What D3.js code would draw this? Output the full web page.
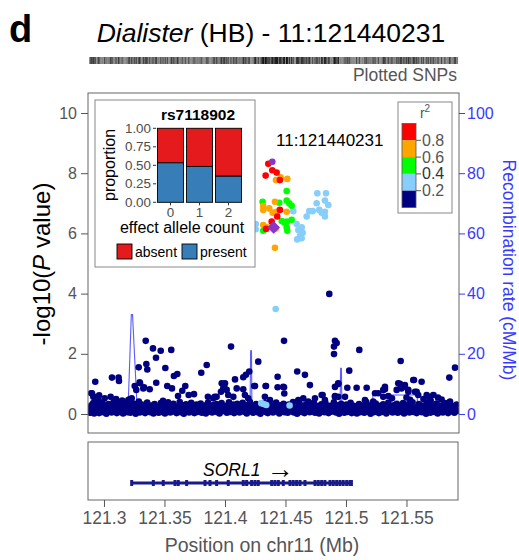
<!DOCTYPE html>
<html><head><meta charset="utf-8">
<script src="https://cdn.jsdelivr.net/npm/d3@7"></script>
<style>body{margin:0;background:#fff} svg{font-family:"Liberation Sans",Arial,sans-serif}</style>
</head><body><svg id="c" width="519" height="560"></svg>
<script>
// ---------------- DATA ----------------
const xTicks=[121.3,121.35,121.4,121.45,121.5,121.55];
const yTicks=[0,2,4,6,8,10];
const recTicks=[0,20,40,60,80,100];
const leadSNP=[121.440231,6.2];
const leadLabel="11:121440231";
const purpleSNPs=[[121.4391,8.38]];
const redSNPs=[[121.4358,8.31],[121.4391,8.10],[121.4427,8.02],[121.4336,7.92],[121.4454,7.77],[121.4454,6.78],[121.4432,6.56],[121.4386,6.39],[121.4339,6.15]];
const orangeSNPs=[[121.4421,7.77],[121.4460,7.86],[121.4515,7.81],[121.4413,7.05],[121.4316,6.91],[121.4316,6.78],[121.4366,6.83],[121.4394,6.69],[121.4427,6.72],[121.4510,6.72],[121.4316,6.28],[121.4350,6.20],[121.4421,6.16],[121.4413,5.52]];
const greenSNPs=[[121.4510,7.41],[121.4311,7.05],[121.4449,7.02],[121.4510,7.09],[121.4531,7.00],[121.4551,6.92],[121.4469,6.41],[121.4490,6.36],[121.4510,6.39],[121.4551,6.45],[121.4316,6.09],[121.4510,6.20],[121.4515,6.09]];
const lightblueSNPs=[[121.4564,6.74],[121.4254,6.31],[121.4254,6.14],[121.4592,6.31],[121.4634,6.20],[121.4606,6.11],[121.4642,6.02],[121.4620,5.91],[121.4597,5.80],[121.4634,5.84],[121.4675,6.56],[121.4697,6.74],[121.4725,6.74],[121.4758,7.00],[121.4763,7.33],[121.4835,7.33],[121.4826,7.09],[121.4854,6.94],[121.4779,6.78],[121.4799,6.69],[121.4826,6.72],[121.4826,6.56],[121.4419,3.49],[121.4300,0.36],[121.4320,0.33],[121.4341,0.30],[121.4534,0.28]];
const navySNPs=[[121.3345,2.43],[121.3405,2.18],[121.3469,2.10],[121.3556,2.13],[121.3430,1.87],[121.3350,1.66],[121.3287,1.55],[121.3358,1.48],[121.3507,1.53],[121.3606,1.33],[121.3578,1.26],[121.3849,1.63],[121.3804,1.37],
[121.2928,1.07],[121.3066,1.21],[121.3121,1.21],[121.3124,1.10],[121.3295,1.05],[121.3254,0.93],[121.3267,0.80],[121.3331,0.89],[121.3378,0.82],[121.3432,1.04],[121.3523,0.93],[121.3562,0.85],[121.3672,0.93],[121.3647,0.77],[121.3700,0.63],[121.3744,0.66],[121.3612,0.60],[121.3859,0.57],[121.3915,0.57],[121.2901,0.69],[121.2917,0.57],[121.3006,0.52],[121.3055,0.57],[121.3212,0.49],[121.3298,1.02],[121.3325,0.85],[121.2953,0.46],[121.3201,0.46],[121.3229,0.52],[121.3903,0.52],[121.3931,0.57],[121.3488,0.44],
[121.4862,3.99],[121.4488,2.43],[121.4050,2.24],[121.4909,2.43],[121.4901,2.24],[121.4901,1.99],[121.4923,2.36],[121.4275,1.74],[121.4597,1.41],[121.4661,1.30],[121.4435,1.24],[121.4702,0.96],[121.4201,1.41],[121.4173,1.30],[121.4151,1.22],[121.4083,1.15],[121.4000,1.02],[121.3986,0.85],[121.4097,0.85],[121.4151,0.82],[121.4248,0.93],[121.4339,0.93],[121.4488,0.89],[121.4807,0.63],[121.4909,0.60],
[121.5110,2.13],[121.5452,1.76],[121.5901,1.54],[121.5854,1.21],[121.5027,1.44],[121.4936,1.00],[121.5562,1.13],[121.5625,1.07],[121.5011,0.87],[121.5088,0.87],[121.5171,0.87],[121.4909,0.57],[121.4936,0.57],[121.5322,0.90],[121.5267,0.69],[121.5308,0.80],[121.5446,1.00],[121.5473,0.90],[121.5419,0.80],[121.5515,0.80],[121.5584,0.74],[121.5667,0.63],[121.5721,0.63],
[121.3973,1.02],[121.3994,0.90],[121.4014,0.80],[121.3967,0.74],[121.4242,0.93],[121.4336,0.93],[121.4435,0.89],[121.4482,0.90],[121.4490,0.68],[121.4799,0.63],[121.4744,0.52],[121.4909,0.90],[121.4936,1.02],[121.5240,0.69],[121.5322,0.82],[121.5308,0.57],[121.5432,1.02],[121.5459,0.85],[121.5487,0.96],[121.5556,1.13],[121.5570,0.74],[121.5597,0.63],[121.5515,0.74],[121.5680,0.57],[121.5818,0.36],[121.5860,0.41],[121.5901,0.24],[121.2893,0.69],[121.2912,0.57],[121.4027,0.63],[121.4069,0.57],[121.4165,0.63],[121.4192,0.52],[121.4330,0.57],[121.4372,0.46],[121.4606,0.46],[121.4647,0.52],[121.4688,0.41],[121.4826,0.46],[121.4992,0.57],[121.5157,0.46],[121.5225,0.41],
[121.5350,0.60],[121.5380,0.52],[121.5500,0.55],[121.5530,0.47],[121.5640,0.50],[121.5700,0.45],[121.5760,0.55],[121.5790,0.48],[121.2960,0.62],[121.3100,0.50],[121.3150,0.45]];
const navyBand=[[121.2882,0.18],[121.2889,0.04],[121.2896,0.29],[121.2904,0.11],[121.2911,0.36],[121.2919,0.02],[121.2927,0.21],[121.2935,0.08],[121.2944,0.31],[121.2952,0.15],[121.2960,0.03],[121.2969,0.25],[121.2977,0.12],[121.2986,0.38],[121.2994,0.06],[121.3003,0.19],[121.3011,0.28],[121.3020,0.01],[121.3028,0.14],[121.3037,0.33],[121.3046,0.09],[121.3054,0.23],[121.3063,0.05],[121.3071,0.17],[121.3080,0.40],[121.3089,0.10],[121.3097,0.26],[121.3106,0.03],[121.3114,0.20],[121.3123,0.34],[121.3132,0.07],[121.3140,0.16],[121.3149,0.29],[121.3158,0.02],[121.3166,0.12],[121.3175,0.37],[121.3184,0.22],[121.3192,0.06],[121.3201,0.30],[121.3210,0.14],[121.3218,0.04],[121.3227,0.25],[121.3236,0.10],[121.3244,0.35],[121.3253,0.18],[121.3262,0.01],[121.3270,0.27],[121.3279,0.13],[121.3288,0.41],[121.3296,0.05],[121.3305,0.20],[121.3314,0.31],[121.3322,0.08],[121.3331,0.16],[121.3340,0.03],[121.3348,0.24],[121.3357,0.38],[121.3366,0.11],[121.3374,0.19],[121.3383,0.06],[121.3392,0.28],[121.3400,0.15],[121.3409,0.02],[121.3418,0.33],[121.3426,0.09],[121.3435,0.21],[121.3444,0.12],[121.3452,0.04],[121.3461,0.26],[121.3470,0.36],[121.3478,0.07],[121.3487,0.17],[121.3496,0.30],[121.3504,0.02],[121.3513,0.13],[121.3522,0.23],[121.3530,0.39],[121.3539,0.10],[121.3548,0.05],[121.3556,0.27],[121.3565,0.15],[121.3574,0.34],[121.3582,0.08],[121.3591,0.19],[121.3600,0.03],[121.3608,0.25],[121.3617,0.12],[121.3626,0.40],[121.3634,0.06],[121.3643,0.21],[121.3652,0.29],[121.3660,0.01],[121.3669,0.16],[121.3678,0.32],[121.3686,0.09],[121.3695,0.22],[121.3704,0.05],[121.3712,0.14],[121.3721,0.37],[121.3730,0.11],[121.3738,0.26],[121.3747,0.03],[121.3756,0.18],[121.3764,0.31],[121.3773,0.07],[121.3782,0.20],[121.3790,0.13],[121.3799,0.35],[121.3808,0.04],[121.3816,0.24],[121.3825,0.10],[121.3834,0.28],[121.3842,0.02],[121.3851,0.17],[121.3860,0.38],[121.3868,0.08],[121.3877,0.22],[121.3886,0.14],[121.3894,0.05],[121.3903,0.30],[121.3912,0.11],[121.3920,0.19],[121.3929,0.33],[121.3938,0.06],[121.3946,0.25],[121.3955,0.02],[121.3964,0.15],[121.3972,0.36],[121.3981,0.09],[121.3990,0.21],[121.3998,0.12],[121.4007,0.27],[121.4016,0.04],[121.4024,0.18],[121.4033,0.39],[121.4042,0.07],[121.4050,0.23],[121.4059,0.14],[121.4068,0.31],[121.4076,0.03],[121.4085,0.20],[121.4094,0.10],[121.4102,0.34],[121.4111,0.16],[121.4120,0.05],[121.4128,0.26],[121.4137,0.12],[121.4146,0.37],[121.4154,0.08],[121.4163,0.19],[121.4172,0.29],[121.4180,0.02],[121.4189,0.13],[121.4198,0.24],[121.4206,0.40],[121.4215,0.09],[121.4224,0.17],[121.4232,0.04],[121.4241,0.28],[121.4250,0.11],[121.4258,0.33],[121.4267,0.06],[121.4276,0.22],[121.4284,0.15],[121.4293,0.01],[121.4302,0.30],[121.4310,0.12],[121.4319,0.20],[121.4328,0.36],[121.4336,0.07],[121.4345,0.25],[121.4354,0.03],[121.4362,0.16],[121.4371,0.32],[121.4380,0.10],[121.4388,0.19],[121.4397,0.05],[121.4406,0.27],[121.4414,0.14],[121.4423,0.38],[121.4432,0.08],[121.4440,0.21],[121.4449,0.02],[121.4458,0.29],[121.4466,0.11],[121.4475,0.18],[121.4484,0.34],[121.4492,0.06],[121.4501,0.24],[121.4510,0.13],[121.4518,0.04],[121.4527,0.31],[121.4536,0.17],[121.4544,0.09],[121.4553,0.26],[121.4562,0.40],[121.4570,0.05],[121.4579,0.15],[121.4588,0.22],[121.4596,0.01],[121.4605,0.12],[121.4614,0.35],[121.4622,0.19],[121.4631,0.07],[121.4640,0.28],[121.4648,0.14],[121.4657,0.03],[121.4666,0.23],[121.4674,0.33],[121.4683,0.10],[121.4692,0.17],[121.4700,0.06],[121.4709,0.30],[121.4718,0.12],[121.4726,0.21],[121.4735,0.38],[121.4744,0.04],[121.4752,0.16],[121.4761,0.26],[121.4770,0.09],[121.4778,0.02],[121.4787,0.19],[121.4796,0.32],[121.4804,0.13],[121.4813,0.24],[121.4822,0.06],[121.4830,0.36],[121.4839,0.11],[121.4848,0.18],[121.4856,0.03],[121.4865,0.27],[121.4874,0.15],[121.4882,0.08],[121.4891,0.22],[121.4900,0.39],[121.4908,0.12],[121.4917,0.05],[121.4926,0.29],[121.4934,0.17],[121.4943,0.01],[121.4952,0.20],[121.4960,0.34],[121.4969,0.10],[121.4978,0.25],[121.4986,0.04],[121.4995,0.14],[121.5004,0.31],[121.5012,0.07],[121.5021,0.21],[121.5030,0.12],[121.5038,0.37],[121.5047,0.03],[121.5056,0.18],[121.5064,0.27],[121.5073,0.09],[121.5082,0.15],[121.5090,0.02],[121.5099,0.24],[121.5108,0.33],[121.5116,0.06],[121.5125,0.19],[121.5134,0.11],[121.5142,0.28],[121.5151,0.04],[121.5160,0.16],[121.5168,0.40],[121.5177,0.08],[121.5186,0.22],[121.5194,0.13],[121.5203,0.01],[121.5212,0.30],[121.5220,0.17],[121.5229,0.06],[121.5238,0.25],[121.5246,0.35],[121.5255,0.10],[121.5264,0.19],[121.5272,0.03],[121.5281,0.27],[121.5290,0.14],[121.5298,0.07],[121.5307,0.32],[121.5316,0.21],[121.5324,0.11],[121.5333,0.02],[121.5342,0.18],[121.5350,0.38],[121.5359,0.09],[121.5368,0.24],[121.5376,0.15],[121.5385,0.05],[121.5394,0.29],[121.5402,0.12],[121.5411,0.20],[121.5420,0.34],[121.5428,0.04],[121.5437,0.16],[121.5446,0.26],[121.5454,0.08],[121.5463,0.13],[121.5472,0.36],[121.5480,0.02],[121.5489,0.22],[121.5498,0.10],[121.5506,0.31],[121.5515,0.17],[121.5524,0.05],[121.5532,0.27],[121.5541,0.14],[121.5550,0.39],[121.5558,0.07],[121.5567,0.19],[121.5576,0.11],[121.5584,0.03],[121.5593,0.25],[121.5602,0.33],[121.5610,0.09],[121.5619,0.16],[121.5628,0.06],[121.5636,0.28],[121.5645,0.13],[121.5654,0.21],[121.5662,0.01],[121.5671,0.37],[121.5680,0.10],[121.5688,0.18],[121.5697,0.04],[121.5706,0.30],[121.5714,0.15],[121.5723,0.24],[121.5732,0.07],[121.5740,0.12],[121.5749,0.35],[121.5758,0.02],[121.5766,0.20],[121.5775,0.27],[121.5784,0.09],[121.5792,0.14],[121.5801,0.05],[121.5810,0.32],[121.5818,0.17],[121.5827,0.11],[121.5836,0.23],[121.5844,0.03],[121.5853,0.38],[121.5862,0.08],[121.5870,0.19],[121.5879,0.13],[121.5888,0.26],[121.5896,0.04],[121.5905,0.16],[121.5914,0.31],[121.5922,0.10]];
// recombination rate (cM/Mb)
const recomb=[[121.2868,0.5],[121.3198,0.5],[121.3226,33],[121.3236,33],[121.3273,3],[121.3298,1.0],[121.3793,0.8],[121.4083,1.0],[121.4207,1.5],[121.4212,21],[121.4219,21],[121.4223,0.5],[121.4413,0.3],[121.4430,0.8],[121.4620,0.8],[121.4950,0.6],[121.4956,15.2],[121.4962,15.2],[121.4967,0.5],[121.5215,0.5],[121.5223,6.3],[121.5587,6.3],[121.5595,1.5],[121.5678,1.5],[121.5719,7.0],[121.5744,7.0],[121.5752,0.3],[121.5934,0.3]];
const gene={name:"SORL1",start:121.3229,end:121.5045};
const exons=[121.3229,121.3408,121.3490,121.3587,121.3614,121.3683,121.3835,121.3876,121.3931,121.4027,121.4151,121.4179,121.4220,121.4248,121.4275,121.4386,121.4413,121.4441,121.4482,121.4537,121.4564,121.4592,121.4620,121.4661,121.4744,121.4771,121.4799,121.4826,121.4868,121.4895,121.4923,121.4950,121.4977,121.5006,121.5033,121.5045];
const insetCounts=["0","1","2"];
const insetPresent=[0.535,0.485,0.355];
const insetAbsent=[0.465,0.515,0.645];
const insetTicks=[0,0.25,0.5,0.75,1];
const r2Labels=["0.8","0.6","0.4","0.2"];
const r2Colors=["#FF0000","#FFA500","#00FF00","#87CEFA","#000080"];

// ---------------- DRAW ----------------
const svg=d3.select("#c");
const gray="#555", blue="#3a3aff";
const P={l:88,r:459,t:93,b:433};
const x=d3.scaleLinear().domain([121.2868,121.5934]).range([P.l,P.r]);
const y=d3.scaleLinear().domain([0,10]).range([414,113]);
const yr=d3.scaleLinear().domain([0,100]).range([414,113]);

// panel label and title
svg.append("text").attr("x",9).attr("y",42).attr("font-size",38).attr("font-weight","bold").text("d");
const tt=svg.append("text").attr("x",271).attr("y",42).attr("text-anchor","middle").attr("font-size",26.5);
tt.append("tspan").attr("font-style","italic").text("Dialister");
tt.append("tspan").text(" (HB) - 11:121440231");

// barcode of plotted SNPs
const allSNPs=[...navyBand,...navySNPs,...lightblueSNPs,...greenSNPs,...orangeSNPs,...redSNPs,...purpleSNPs,leadSNP];
svg.append("g").selectAll("line").data(allSNPs).join("line")
  .attr("x1",d=>x(d[0])).attr("x2",d=>x(d[0])).attr("y1",57).attr("y2",64)
  .attr("stroke","#111").attr("stroke-width",0.7).attr("stroke-opacity",0.8);
svg.append("text").attr("x",457).attr("y",81).attr("text-anchor","end").attr("font-size",17.5).attr("fill",gray).text("Plotted SNPs");

// clip
svg.append("clipPath").attr("id","clp").append("rect").attr("x",P.l).attr("y",P.t).attr("width",P.r-P.l).attr("height",P.b-P.t);
const main=svg.append("g").attr("clip-path","url(#clp)");

// recombination line
main.append("path").datum(recomb).attr("fill","none").attr("stroke","#5a5aff").attr("stroke-width",1.1)
  .attr("d",d3.line().x(d=>x(d[0])).y(d=>yr(d[1])));

function dots(data,color,r){
  main.append("g").selectAll("circle").data(data).join("circle")
   .attr("cx",d=>x(d[0])).attr("cy",d=>y(d[1])).attr("r",r).attr("fill",color);
}
dots(navyBand,r2Colors[4],3.3);
dots(navySNPs,r2Colors[4],3.3);
dots(lightblueSNPs,r2Colors[3],3.3);
dots(greenSNPs,r2Colors[2],3.3);
dots(orangeSNPs,r2Colors[1],3.3);
dots(redSNPs,r2Colors[0],3.3);
dots(purpleSNPs,"#8a34c8",3.3);
main.append("path").attr("d",d3.symbol(d3.symbolSquare,80)())
  .attr("transform",`translate(${x(leadSNP[0])},${y(leadSNP[1])}) rotate(45)`).attr("fill","#8a34c8");

// lead label
svg.append("text").attr("x",276).attr("y",146).attr("font-size",17).text(leadLabel);

// panel box
svg.append("rect").attr("x",P.l).attr("y",P.t).attr("width",P.r-P.l).attr("height",P.b-P.t).attr("fill","none").attr("stroke","#666");

// left axis
const la=svg.append("g").attr("transform",`translate(${P.l},0)`).call(d3.axisLeft(y).tickValues(yTicks).tickSize(7).tickPadding(4).tickFormat(d3.format("d")));
la.select(".domain").remove();
la.selectAll("line").attr("stroke","#555");
la.selectAll("text").attr("font-size",16).attr("fill",gray).attr("font-family","Liberation Sans, Arial, sans-serif");
const yl=svg.append("text").attr("transform","translate(50,264) rotate(-90)").attr("text-anchor","middle").attr("font-size",24);
yl.append("tspan").text("-log10(");
yl.append("tspan").attr("font-style","italic").text("P");
yl.append("tspan").text(" value)");

// right axis
const ra=svg.append("g").attr("transform",`translate(${P.r},0)`).call(d3.axisRight(yr).tickValues(recTicks).tickSize(6).tickPadding(2));
ra.select(".domain").remove();
ra.selectAll("line").attr("stroke",blue);
ra.selectAll("text").attr("font-size",16).attr("fill",blue).attr("font-family","Liberation Sans, Arial, sans-serif");
svg.append("text").attr("transform","translate(503,270) rotate(90)").attr("text-anchor","middle").attr("font-size",17.5).attr("fill",blue).text("Recombination rate (cM/Mb)");

// r2 legend
const lg=svg.append("g");
lg.append("rect").attr("x",398).attr("y",102).attr("width",54).attr("height",111).attr("fill","#fff").attr("stroke","#888");
const r2t=lg.append("text").attr("x",425).attr("y",118).attr("text-anchor","middle").attr("font-size",14).attr("fill",gray);
r2t.append("tspan").text("r");
r2t.append("tspan").attr("font-size",10).attr("dy",-6).text("2");
const ly=d3.scaleLinear().domain([0,5]).range([123.5,207.5]);
lg.selectAll("rect.c").data(r2Colors).join("rect").attr("class","c")
  .attr("x",402).attr("y",(d,i)=>ly(i)).attr("width",14).attr("height",(d,i)=>ly(i+1)-ly(i)).attr("fill",d=>d);
lg.append("rect").attr("x",402).attr("y",ly(0)).attr("width",14).attr("height",ly(5)-ly(0)).attr("fill","none").attr("stroke","#555").attr("stroke-width",0.8);
lg.selectAll("line.t").data(r2Labels).join("line").attr("class","t")
  .attr("x1",416).attr("x2",421).attr("y1",(d,i)=>ly(i+1)).attr("y2",(d,i)=>ly(i+1)).attr("stroke","#555");
lg.selectAll("text.l").data(r2Labels).join("text").attr("class","l")
  .attr("x",422).attr("y",(d,i)=>ly(i+1)+5.5).attr("font-size",16).attr("fill",(d)=>d==="0.4"?"#333":gray).text(d=>d);

// inset bar chart
const ins=svg.append("g");
ins.append("rect").attr("x",95).attr("y",100).attr("width",160).attr("height",167).attr("fill","#fff").attr("stroke","#888");
const ix=d3.scaleBand().domain(insetCounts).range([156,243]).paddingInner(0.1).paddingOuter(0.05);
const iy=d3.scaleLinear().domain([0,1]).range([202.3,128.3]);
ins.selectAll("line.g").data([0,0.125,0.25,0.375,0.5,0.625,0.75,0.875,1]).join("line").attr("class","g")
  .attr("x1",156).attr("x2",243).attr("y1",d=>iy(d)).attr("y2",d=>iy(d)).attr("stroke","#ebebeb").attr("stroke-width",(d,i)=>i%2?0.5:1);
ins.selectAll("line.gv").data(insetCounts).join("line").attr("class","gv")
  .attr("y1",128.3).attr("y2",202.3).attr("x1",d=>ix(d)+ix.bandwidth()/2).attr("x2",d=>ix(d)+ix.bandwidth()/2).attr("stroke","#ebebeb");
ins.selectAll("rect.p").data(insetCounts).join("rect").attr("class","p")
  .attr("x",d=>ix(d)).attr("width",ix.bandwidth()).attr("y",(d,i)=>iy(insetPresent[i])).attr("height",(d,i)=>iy(0)-iy(insetPresent[i]))
  .attr("fill","#377EB8").attr("stroke","#000").attr("stroke-width",0.9);
ins.selectAll("rect.a").data(insetCounts).join("rect").attr("class","a")
  .attr("x",d=>ix(d)).attr("width",ix.bandwidth()).attr("y",(d,i)=>iy(insetPresent[i]+insetAbsent[i])).attr("height",(d,i)=>iy(insetPresent[i])-iy(insetPresent[i]+insetAbsent[i]))
  .attr("fill","#E41A1C").attr("stroke","#000").attr("stroke-width",0.9);
ins.selectAll("line.yt").data(insetTicks).join("line").attr("class","yt")
  .attr("x1",153).attr("x2",156).attr("y1",d=>iy(d)).attr("y2",d=>iy(d)).attr("stroke","#333");
ins.selectAll("text.yt").data(insetTicks).join("text").attr("class","yt")
  .attr("x",151).attr("y",d=>iy(d)+4.6).attr("text-anchor","end").attr("font-size",13.4).attr("fill","#4d4d4d").text(d3.format(".2f"));
ins.selectAll("line.xt").data(insetCounts).join("line").attr("class","xt")
  .attr("x1",d=>ix(d)+ix.bandwidth()/2).attr("x2",d=>ix(d)+ix.bandwidth()/2).attr("y1",202.3).attr("y2",205.3).attr("stroke","#333");
ins.selectAll("text.xt").data(insetCounts).join("text").attr("class","xt")
  .attr("x",d=>ix(d)+ix.bandwidth()/2).attr("y",217).attr("text-anchor","middle").attr("font-size",13.4).attr("fill","#4d4d4d").text(d=>d);
ins.append("text").attr("x",198).attr("y",120).attr("text-anchor","middle").attr("font-size",15.5).attr("font-weight","bold").text("rs7118902");
ins.append("text").attr("transform","translate(115,165) rotate(-90)").attr("text-anchor","middle").attr("font-size",16).text("proportion");
ins.append("text").attr("x",182).attr("y",233).attr("text-anchor","middle").attr("font-size",16).text("effect allele count");
const legItems=[["absent","#E41A1C",117],["present","#377EB8",182]];
legItems.forEach(([lab,col,lx])=>{
  ins.append("rect").attr("x",lx).attr("y",244).attr("width",15).attr("height",15).attr("fill",col).attr("stroke","#000").attr("stroke-width",0.9);
  ins.append("text").attr("x",lx+18).attr("y",256.5).attr("font-size",14).text(lab);
});

// gene panel
const G={t:442,b:500};
svg.append("rect").attr("x",P.l).attr("y",G.t).attr("width",P.r-1-P.l).attr("height",G.b-G.t).attr("fill","none").attr("stroke","#666");
svg.append("line").attr("x1",x(gene.start)).attr("x2",x(gene.end)).attr("y1",483).attr("y2",483).attr("stroke","#1a1a8a").attr("stroke-width",3);
svg.append("g").selectAll("rect").data(exons).join("rect")
  .attr("x",d=>x(d)-1.5).attr("width",3).attr("y",480).attr("height",6).attr("fill","#1a1a8a");
const gl=svg.append("text").attr("x",203).attr("y",476).attr("font-size",17.5);
gl.append("tspan").attr("font-style","italic").text(gene.name);
gl.append("tspan").attr("dx",6).attr("dy",2).attr("font-size",27).text("\u2192");

// x axis
const xa=svg.append("g").attr("transform",`translate(0,${G.b})`).call(d3.axisBottom(x).tickValues(xTicks).tickSize(7).tickPadding(5).tickFormat(d=>String(+d.toFixed(2))));
xa.select(".domain").remove();
xa.selectAll("line").attr("stroke","#555");
xa.selectAll("text").attr("font-size",17.5).attr("fill",gray).attr("font-family","Liberation Sans, Arial, sans-serif");
svg.append("text").attr("x",262).attr("y",552).attr("text-anchor","middle").attr("font-size",19.5).attr("fill",gray).text("Position on chr11 (Mb)");
</script></body></html>
